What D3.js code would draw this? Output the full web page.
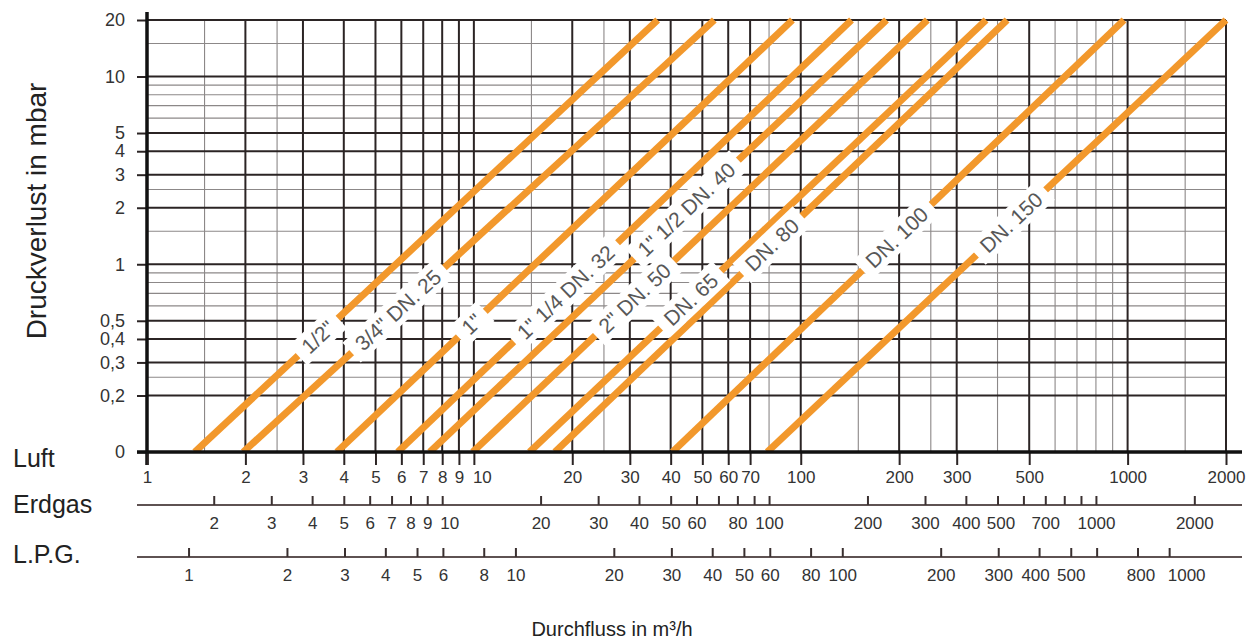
<!DOCTYPE html>
<html>
<head>
<meta charset="utf-8">
<script src="https://cdn.jsdelivr.net/npm/d3@7"></script>
<style>
  body { margin: 0; background: #fff; }
  svg { display: block; font-family: "Liberation Sans", Arial, sans-serif; }
</style>
</head>
<body>
<svg id="chart" width="1252" height="640"></svg>
<script>
// ---------------- data ----------------
const luftTicks = [1, 2, 3, 4, 5, 6, 7, 8, 9, 10, 20, 30, 40, 50, 60, 70, 100, 200, 300, 500, 1000, 2000];
const luftMinor = [1.5, 2.5, 15, 25, 80, 150, 250, 400, 600, 700, 800, 900, 1500];
const yMajor = [20, 10, 5, 4, 3, 2, 1, 0.5, 0.4, 0.3, 0.2, 0.1];
const yTickLabels = ["20", "10", "5", "4", "3", "2", "1", "0,5", "0,4", "0,3", "0,2", "0"];
const yMinor = [15, 9, 8, 7, 6, 2.5, 1.5, 0.9, 0.8, 0.7, 0.6, 0.25];
const erdgasTicks = [2, 3, 4, 5, 6, 7, 8, 9, 10, 20, 30, 40, 50, 60, 70, 80, 90, 100, 200, 300, 400, 500, 600, 700, 800, 900, 1000, 2000];
const erdgasLabels = [2, 3, 4, 5, 6, 7, 8, 9, 10, 20, 30, 40, 50, 60, 80, 100, 200, 300, 400, 500, 700, 1000, 2000];
const lpgTicks = [1, 2, 3, 4, 5, 6, 8, 10, 20, 30, 40, 50, 60, 80, 100, 200, 300, 400, 500, 600, 800, 1000];
const lpgLabels = [1, 2, 3, 4, 5, 6, 8, 10, 20, 30, 40, 50, 60, 80, 100, 200, 300, 400, 500, 800, 1000];
const erdgasFactor = 1.25;      // Erdgas flow = Luft flow x factor
const lpgFactor = 1 / 1.34;     // L.P.G. flow = Luft flow x factor
const pipes = ['1/2"', '3/4" DN. 25', '1"', '1" 1/4 DN. 32', '1" 1/2 DN. 40', '2" DN. 50', 'DN. 65', 'DN. 80', 'DN. 100', 'DN. 150'];
const flowAtMin = [1.40, 1.97, 3.81, 5.85, 7.33, 9.92, 14.8, 17.7, 40.5, 79];     // Luft m³/h at 0.1 mbar
const flowAtMax = [36.5, 54.4, 94.3, 143, 183, 244, 369, 428, 975, 2000];         // Luft m³/h at 20 mbar
const labelDp = [0.41, 0.57, 0.48, 0.71, 1.96, 0.66, 0.65, 1.27, 1.39, 1.67];     // mbar at label centre
const dpMin = 0.1, dpMax = 20;
const luftMin = 1, luftMax = 2000;

// ---------------- scales ----------------
const svg = d3.select("#chart");
const x = d3.scaleLog().domain([luftMin, luftMax]).range([147, 1226]);
const y = d3.scaleLog().domain([dpMin, dpMax]).range([452, 20]);
const xErd = d3.scaleLog().domain([luftMin * erdgasFactor, luftMax * erdgasFactor]).range(x.range());
const xLpg = d3.scaleLog().domain([luftMin * lpgFactor, luftMax * lpgFactor]).range(x.range());

const dark = "#2b2424";
const thin = "#8c8888";
const orange = "#f2982c";
const txt = "#333";
const FONT = "Liberation Sans, Arial, sans-serif";

// ---------------- grid ----------------
const grid = svg.append("g");
grid.selectAll(".vmin").data(luftMinor).join("line")
  .attr("x1", d => x(d)).attr("x2", d => x(d))
  .attr("y1", y(dpMax)).attr("y2", y(dpMin))
  .attr("stroke", thin).attr("stroke-width", 1.1);
grid.selectAll(".hmin").data(yMinor).join("line")
  .attr("x1", x(luftMin)).attr("x2", x(luftMax))
  .attr("y1", d => y(d)).attr("y2", d => y(d))
  .attr("stroke", thin).attr("stroke-width", 1.1);
grid.selectAll(".vmaj").data(luftTicks).join("line")
  .attr("x1", d => x(d)).attr("x2", d => x(d))
  .attr("y1", y(dpMax)).attr("y2", y(dpMin))
  .attr("stroke", dark).attr("stroke-width", 2);
grid.selectAll(".hmaj").data(yMajor).join("line")
  .attr("x1", x(luftMin)).attr("x2", x(luftMax))
  .attr("y1", d => y(d)).attr("y2", d => y(d))
  .attr("stroke", dark).attr("stroke-width", 2);

// ---------------- pipe lines ----------------
svg.append("clipPath").attr("id", "plotclip").append("rect")
  .attr("x", x(luftMin)).attr("y", y(dpMax) - 3)
  .attr("width", x(luftMax) - x(luftMin) + 4).attr("height", y(dpMin) - y(dpMax) + 3);

const lineGen = d3.line().x(d => x(d[0])).y(d => y(d[1]));
const pipeData = pipes.map((name, i) => ({
  name, pts: [[flowAtMin[i], dpMin], [flowAtMax[i], dpMax]], lab: labelDp[i]
}));
svg.append("g").attr("clip-path", "url(#plotclip)")
  .selectAll("path").data(pipeData).join("path")
  .attr("d", d => lineGen(d.pts))
  .attr("fill", "none").attr("stroke", orange).attr("stroke-width", 7);

// ---------------- axes ----------------
// y axis
const yAxis = svg.append("g").attr("transform", `translate(${x(luftMin)},0)`)
  .call(d3.axisLeft(y).tickValues(yMajor).tickFormat((d, i) => yTickLabels[i]).tickSize(10).tickPadding(12).tickSizeOuter(0));
yAxis.select(".domain").remove();
yAxis.selectAll(".tick line").attr("stroke", dark).attr("stroke-width", 2);
yAxis.selectAll("text").attr("font-size", 18).attr("fill", txt).attr("font-family", FONT);
svg.append("line").attr("x1", x(luftMin)).attr("x2", x(luftMin)).attr("y1", 12).attr("y2", 465)
  .attr("stroke", "#111").attr("stroke-width", 3.5);

// Luft axis
const lAxis = svg.append("g").attr("transform", `translate(0,${y(dpMin)})`)
  .call(d3.axisBottom(x).tickValues(luftTicks).tickFormat(d3.format("d")).tickSize(13).tickPadding(6).tickSizeOuter(0));
lAxis.select(".domain").remove();
lAxis.selectAll(".tick line").attr("stroke", dark).attr("stroke-width", 2);
lAxis.selectAll("text").attr("font-size", 17).attr("fill", txt).attr("font-family", FONT);
lAxis.selectAll(".tick").filter(d => d === 10).select("text").attr("dx", 8);
svg.append("line").attr("x1", 137).attr("x2", 1242).attr("y1", y(dpMin)).attr("y2", y(dpMin))
  .attr("stroke", "#111").attr("stroke-width", 3.5);

// Erdgas axis
const eY = 505;
svg.append("line").attr("x1", 137).attr("x2", 1242).attr("y1", eY).attr("y2", eY)
  .attr("stroke", "#5e5252").attr("stroke-width", 2.2);
const eAxis = svg.append("g").attr("transform", `translate(0,${eY})`)
  .call(d3.axisBottom(xErd).tickValues(erdgasTicks)
    .tickFormat(d => erdgasLabels.includes(d) ? d3.format("d")(d) : "")
    .tickSizeInner(-9).tickSizeOuter(0).tickPadding(12));
eAxis.select(".domain").remove();
eAxis.selectAll(".tick line").attr("stroke", "#3a3030").attr("stroke-width", 2);
eAxis.selectAll("text").attr("font-size", 17).attr("fill", txt).attr("font-family", FONT);
eAxis.selectAll(".tick").filter(d => d === 10).select("text").attr("dx", 7);
eAxis.selectAll(".tick").filter(d => d === 500).select("text").attr("dx", 3);

// LPG axis
const pY = 557;
svg.append("line").attr("x1", 137).attr("x2", 1242).attr("y1", pY).attr("y2", pY)
  .attr("stroke", "#5e5252").attr("stroke-width", 2.2);
const pAxis = svg.append("g").attr("transform", `translate(0,${pY})`)
  .call(d3.axisBottom(xLpg).tickValues(lpgTicks)
    .tickFormat(d => lpgLabels.includes(d) ? d3.format("d")(d) : "")
    .tickSizeInner(-9).tickSizeOuter(0).tickPadding(12));
pAxis.select(".domain").remove();
pAxis.selectAll(".tick line").attr("stroke", "#3a3030").attr("stroke-width", 2);
pAxis.selectAll("text").attr("font-size", 17).attr("fill", txt).attr("font-family", FONT);
pAxis.selectAll(".tick").filter(d => d === 1000).select("text").attr("dx", 17);
pAxis.selectAll(".tick").filter(d => d === 800).select("text").attr("dx", 3);
pAxis.selectAll(".tick").filter(d => d === 400).select("text").attr("dx", -4);

// ---------------- pipe labels ----------------
const labG = svg.append("g");
pipeData.forEach(p => {
  const x0 = x(p.pts[0][0]), y0 = y(p.pts[0][1]);
  const x1 = x(p.pts[1][0]), y1 = y(p.pts[1][1]);
  const t = (y(p.lab) - y0) / (y1 - y0);
  const cx = x0 + t * (x1 - x0), cy = y(p.lab);
  const ang = Math.atan2(y1 - y0, x1 - x0) * 180 / Math.PI;
  const g = labG.append("g").attr("transform", `translate(${cx},${cy}) rotate(${ang})`);
  const rect = g.append("rect").attr("fill", "#fff");
  const tx = g.append("text").text(p.name)
    .attr("text-anchor", "middle").attr("dominant-baseline", "central")
    .attr("font-size", 21).attr("fill", "#585858");
  const bb = tx.node().getBBox();
  rect.attr("x", bb.x - 9).attr("y", bb.y - 2).attr("width", bb.width + 18).attr("height", bb.height + 4);
});

// ---------------- titles ----------------
svg.append("text").attr("transform", "translate(46,211) rotate(-90)")
  .attr("text-anchor", "middle").attr("font-size", 28).attr("fill", "#222")
  .text("Druckverlust in mbar");
svg.append("text").attr("x", 13).attr("y", 467).attr("font-size", 25).attr("fill", "#222").text("Luft");
svg.append("text").attr("x", 13).attr("y", 513).attr("font-size", 25).attr("fill", "#222").text("Erdgas");
svg.append("text").attr("x", 13).attr("y", 563).attr("font-size", 25).attr("fill", "#222").text("L.P.G.");
svg.append("text").attr("x", 612).attr("y", 636).attr("text-anchor", "middle")
  .attr("font-size", 20).attr("fill", "#222").text("Durchfluss in m³/h");
</script>
</body>
</html>
